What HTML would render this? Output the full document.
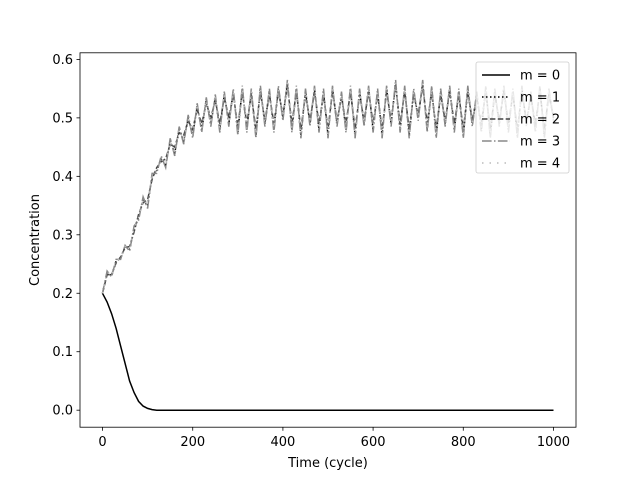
<!DOCTYPE html>
<html><head><meta charset="utf-8"><style>
html,body{margin:0;padding:0;background:#fff}
svg text{font-family:"DejaVu Sans","Liberation Sans",sans-serif;font-size:13px;fill:#000}
</style></head><body>
<svg id="chart" width="640" height="480" viewBox="0 0 640 480">
<rect width="640" height="480" fill="#fff"/>
<g id="plot"></g>
<g id="axes"></g>
<g id="legend"></g>
</svg>
<script>
const xTicks=[0,200,400,600,800,1000];
const yTicks=[0.0,0.1,0.2,0.3,0.4,0.5,0.6];
const yTickLabels=["0.0","0.1","0.2","0.3","0.4","0.5","0.6"];
const step=10;
const m0=[0.2,0.185,0.165,0.14,0.11,0.08,0.05,0.03,0.015,0.007,0.003,0.001,0,0,0,0,0,0,0,0,0,0,0,0,0,0,0,0,0,0,0,0,0,0,0,0,0,0,0,0,0,0,0,0,0,0,0,0,0,0,0,0,0,0,0,0,0,0,0,0,0,0,0,0,0,0,0,0,0,0,0,0,0,0,0,0,0,0,0,0,0,0,0,0,0,0,0,0,0,0,0,0,0,0,0,0,0,0,0,0,0];
const m1=[0.2,0.235,0.23,0.255,0.26,0.28,0.275,0.31,0.33,0.36,0.35,0.4,0.41,0.43,0.42,0.46,0.44,0.48,0.46,0.5,0.47,0.52,0.48,0.53,0.49,0.535,0.48,0.54,0.49,0.545,0.475,0.55,0.48,0.545,0.47,0.55,0.49,0.545,0.48,0.55,0.5,0.56,0.48,0.55,0.47,0.545,0.49,0.55,0.48,0.545,0.47,0.55,0.49,0.54,0.48,0.55,0.47,0.545,0.49,0.55,0.48,0.545,0.47,0.55,0.49,0.56,0.48,0.55,0.47,0.545,0.5,0.56,0.48,0.55,0.47,0.545,0.49,0.55,0.48,0.545,0.47,0.55,0.49,0.54,0.48,0.55,0.47,0.545,0.49,0.55,0.48,0.545,0.47,0.55,0.49,0.54,0.48,0.55,0.47,0.545,0.5];
const m2=[0.2,0.232,0.232,0.252,0.262,0.278,0.28,0.305,0.335,0.355,0.36,0.395,0.415,0.425,0.43,0.455,0.45,0.475,0.47,0.495,0.48,0.515,0.49,0.525,0.5,0.53,0.49,0.535,0.5,0.54,0.485,0.545,0.49,0.54,0.48,0.545,0.495,0.54,0.49,0.545,0.505,0.555,0.49,0.545,0.48,0.54,0.495,0.545,0.49,0.54,0.48,0.545,0.495,0.535,0.49,0.545,0.48,0.54,0.495,0.545,0.49,0.54,0.48,0.545,0.495,0.555,0.49,0.545,0.48,0.54,0.505,0.555,0.49,0.545,0.48,0.54,0.495,0.545,0.49,0.54,0.48,0.545,0.495,0.535,0.49,0.545,0.48,0.54,0.495,0.545,0.49,0.54,0.48,0.545,0.495,0.535,0.49,0.545,0.48,0.54,0.5];
const m3=[0.2,0.238,0.228,0.258,0.258,0.282,0.272,0.315,0.325,0.365,0.345,0.405,0.405,0.435,0.415,0.465,0.435,0.485,0.455,0.505,0.465,0.525,0.475,0.535,0.485,0.54,0.475,0.545,0.485,0.55,0.47,0.555,0.475,0.55,0.465,0.555,0.485,0.55,0.475,0.555,0.495,0.565,0.475,0.555,0.465,0.55,0.485,0.555,0.475,0.55,0.465,0.555,0.485,0.545,0.475,0.555,0.465,0.55,0.485,0.555,0.475,0.55,0.465,0.555,0.485,0.565,0.475,0.555,0.465,0.55,0.495,0.565,0.475,0.555,0.465,0.55,0.485,0.555,0.475,0.55,0.465,0.555,0.485,0.545,0.475,0.555,0.465,0.55,0.485,0.555,0.475,0.55,0.465,0.555,0.485,0.545,0.475,0.555,0.465,0.55,0.495];
const m4=[0.2,0.236,0.23,0.256,0.26,0.28,0.276,0.31,0.33,0.36,0.352,0.4,0.41,0.43,0.422,0.46,0.442,0.48,0.462,0.5,0.472,0.52,0.482,0.53,0.492,0.535,0.482,0.54,0.492,0.545,0.478,0.55,0.482,0.545,0.472,0.55,0.492,0.545,0.482,0.55,0.502,0.56,0.482,0.55,0.472,0.545,0.492,0.55,0.482,0.545,0.472,0.55,0.492,0.54,0.482,0.55,0.472,0.545,0.492,0.55,0.482,0.545,0.472,0.55,0.492,0.56,0.482,0.55,0.472,0.545,0.502,0.56,0.482,0.55,0.472,0.545,0.492,0.55,0.482,0.545,0.472,0.55,0.492,0.54,0.482,0.55,0.472,0.545,0.492,0.55,0.482,0.545,0.472,0.55,0.492,0.54,0.482,0.55,0.472,0.545,0.502];
const seriesNames=["m = 0","m = 1","m = 2","m = 3","m = 4"];

const L=80,R=576,T=52.8,B=427.2;
const xMin=-50,xMax=1050,yMin=-0.0291,yMax=0.6113;
const X=v=>L+(v-xMin)/(xMax-xMin)*(R-L);
const Y=v=>B-(v-yMin)/(yMax-yMin)*(B-T);
const NS="http://www.w3.org/2000/svg";
function mk(tag,attrs,parent){const e=document.createElementNS(NS,tag);for(const k in attrs)e.setAttribute(k,attrs[k]);parent.appendChild(e);return e;}
const styles=[
 {stroke:"#000",dash:"",w:1.5},
 {stroke:"#000",dash:"1.5,2.5",w:1.5},
 {stroke:"#444",dash:"5.5,2.4",w:1.5},
 {stroke:"#888",dash:"9.6,2.4,1.5,2.4",w:1.5},
 {stroke:"#bbb",dash:"1.5,6",w:1.5}];
const plot=document.getElementById('plot');
[m0,m1,m2,m3,m4].forEach((s,i)=>{
 const d=s.map((v,j)=>(j?"L":"M")+X(j*step).toFixed(1)+","+Y(v).toFixed(1)).join("");
 const p=mk('path',{d:d,fill:"none",stroke:styles[i].stroke,"stroke-width":styles[i].w,"stroke-dasharray":styles[i].dash},plot);
 
 
});
const axes=document.getElementById('axes');
const frame=mk('rect',{x:L,y:T,width:R-L,height:B-T,fill:"none",stroke:"#000","stroke-width":0.8},axes);


xTicks.forEach(t=>{
 mk('line',{x1:X(t),x2:X(t),y1:B,y2:B+3.5,stroke:"#000","stroke-width":0.8},axes);
 const tx=mk('text',{x:X(t),y:B+19,"text-anchor":"middle"},axes);tx.textContent=t;
 
 
});
yTicks.forEach((t,i)=>{
 mk('line',{x1:L-3.5,x2:L,y1:Y(t),y2:Y(t),stroke:"#000","stroke-width":0.8},axes);
 const tx=mk('text',{x:L-7,y:Y(t)+4.5,"text-anchor":"end"},axes);tx.textContent=yTickLabels[i];
 
 
});
const xt=mk('text',{x:(L+R)/2,y:467,"text-anchor":"middle"},axes);xt.textContent="Time (cycle)";


const yt=mk('text',{x:0,y:0,"text-anchor":"middle",transform:"translate(39,"+((T+B)/2)+") rotate(-90)"},axes);yt.textContent="Concentration";


const lg=document.getElementById('legend');
const box=mk('rect',{x:476,y:62,width:93,height:111,rx:2,fill:"#fff","fill-opacity":0.8,stroke:"#ccc","stroke-width":0.8},lg);


seriesNames.forEach((n,i)=>{
 const y=75+i*22;
 const g=mk('g',{},lg);
 
 
 mk('line',{x1:482,x2:510,y1:y,y2:y,stroke:styles[i].stroke,"stroke-width":styles[i].w,"stroke-dasharray":styles[i].dash},g);
 const t=mk('text',{x:520,y:y+4.5},g);t.textContent=n;
});
</script>
</body></html>
